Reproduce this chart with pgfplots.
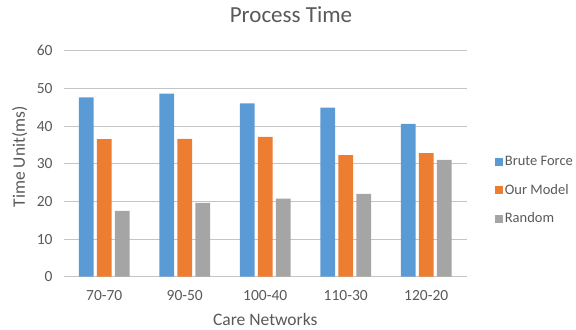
\documentclass[border=0pt]{standalone}
\usepackage{pgfplots}
\pgfplotsset{compat=1.18}
\usepackage{fontspec}
\setmainfont{Carlito}

\definecolor{bfblue}{HTML}{5B9BD5}
\definecolor{omorange}{HTML}{ED7D31}
\definecolor{rdgray}{HTML}{A5A5A5}
\definecolor{txtgray}{HTML}{595959}
\definecolor{gridgray}{HTML}{C4C4C4}

\begin{document}
\begin{tikzpicture}
\useasboundingbox (0,0) rectangle (576bp,330bp);
\begin{axis}[
  at={(64bp,53.3bp)}, anchor=south west,
  scale only axis,
  width=402.5bp, height=226bp,
  ybar=3.3bp, bar width=14.7bp,
  xmin=-0.5, xmax=4.5,
  ymin=0, ymax=60,
  ytick={0,10,...,60},
  xtick=data,
  xticklabels={70-70,90-50,100-40,110-30,120-20},
  axis line style={draw=none},
  tick style={draw=none},
  ymajorgrids,
  grid style={gridgray, line width=0.9bp},
  /pgf/number format/assume math mode=true,
  ticklabel style={font=\fontsize{15.5bp}{17bp}\selectfont, text=txtgray},
  yticklabel style={xshift=-8bp},
  xticklabel style={yshift=-6bp},
  title={Process Time},
  title style={at={(0.564,1)}, anchor=base, yshift=22bp,
    font=\fontsize{23bp}{26bp}\selectfont, text=txtgray},
  xlabel={Care Networks},
  xlabel style={at={(axis description cs:0.5,-0.19)}, anchor=center,
    font=\fontsize{17.5bp}{20bp}\selectfont, text=txtgray},
  ylabel={Time Unit(ms)},
  ylabel style={at={(axis description cs:-0.11,0.53)}, anchor=center,
    font=\fontsize{17.5bp}{20bp}\selectfont, text=txtgray},
  legend style={at={(axis description cs:1.07,0.382)}, anchor=west,
    draw=none, fill=none, font=\fontsize{14.5bp}{16bp}\selectfont,
    text=txtgray, row sep=13bp, inner sep=0pt},
  legend cell align=left,
  legend image code/.code={\fill[#1] (0bp,-4bp) rectangle (8bp,4bp);},
]
\addplot[fill=bfblue, draw=none] coordinates {(0,47.6) (1,48.6) (2,46.0) (3,44.9) (4,40.6)};
\addplot[fill=omorange, draw=none] coordinates {(0,36.5) (1,36.6) (2,37.1) (3,32.3) (4,32.8)};
\addplot[fill=rdgray, draw=none] coordinates {(0,17.5) (1,19.6) (2,20.7) (3,22.0) (4,31.0)};
\legend{Brute Force, Our Model, Random}
\end{axis}
\end{tikzpicture}
\end{document}
